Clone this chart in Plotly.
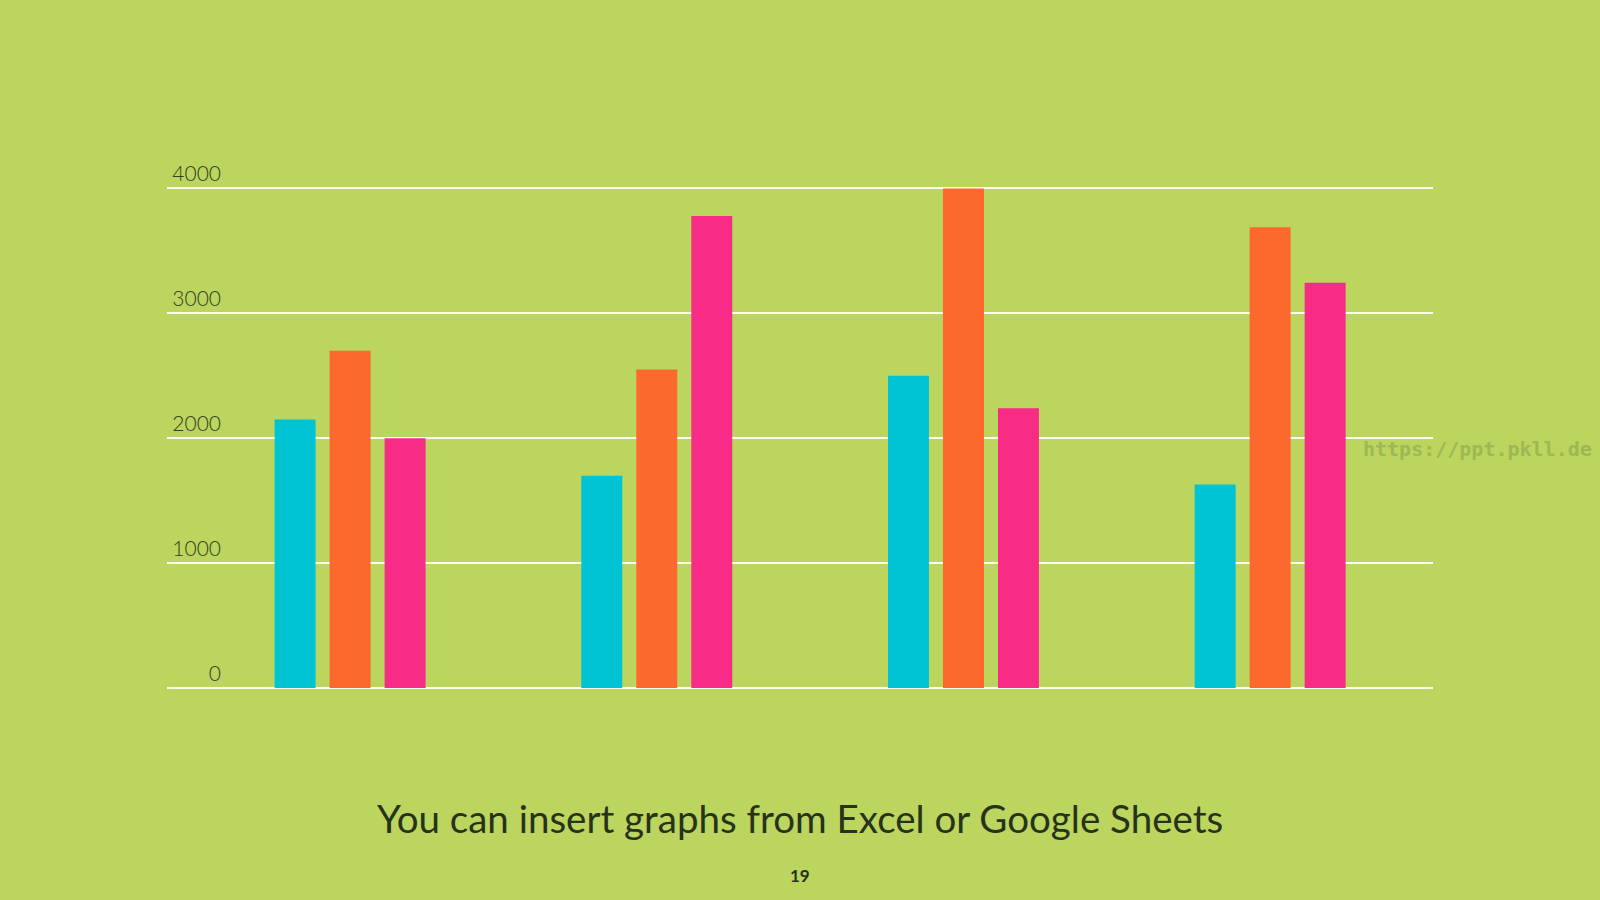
import plotly.graph_objects as go

categories = ["Category 1", "Category 2", "Category 3", "Category 4"]
series_names = ["Series 1", "Series 2", "Series 3"]
series1 = [2150, 1700, 2500, 1630]
series2 = [2700, 2550, 4000, 3690]
series3 = [2000, 3780, 2240, 3245]
tick_vals = [0, 1000, 2000, 3000, 4000]
tick_text = ["0", "1000", "2000", "3000", "4000"]
colors = ["#00C4D3", "#FD682C", "#F82B86"]

BG = "#BBD55E"
TEXT = "#26331A"

fig = go.Figure()
for name, vals, col in zip(series_names, [series1, series2, series3], colors):
    fig.add_trace(go.Bar(x=categories, y=vals, name=name, marker=dict(color=col, line=dict(width=0))))

fig.update_layout(
    width=1600, height=900,
    paper_bgcolor=BG, plot_bgcolor=BG,
    margin=dict(l=167, r=167, t=176, b=212),
    barmode="group", bargap=0.462, bargroupgap=0.255,
    showlegend=False,
    font=dict(family="Lato", color=TEXT),
    title=dict(text="You can insert graphs from Excel or Google Sheets",
               x=0.5, xanchor="center", y=1 - 820 / 900, yanchor="middle", yref="container",
               font=dict(family="Lato", size=38.5, color=TEXT)),
)
fig.update_xaxes(range=[-0.597, 3.531], showticklabels=False, showgrid=False, zeroline=False,
                 showline=False, ticks="")
fig.update_yaxes(range=[0, 4100], tickvals=tick_vals, ticktext=tick_text,
                 showgrid=True, gridcolor="#FFFDF0", gridwidth=2,
                 zeroline=True, zerolinecolor="#FFFDF0", zerolinewidth=2,
                 showline=False, ticks="",
                 ticklabelposition="outside top", ticklabelstandoff=-55,
                 tickfont=dict(family="Lato", size=21, color="#33401F", weight=300))

fig.add_annotation(text="<b>19</b>", xref="paper", yref="paper", x=(800 - 167) / 1266, y=(688 - 875) / 512,
                   showarrow=False, font=dict(family="Lato", size=17, color=TEXT),
                   xanchor="center", yanchor="middle")
fig.add_annotation(text="<b>https://ppt.pkll.de</b>", xref="paper", yref="paper",
                   x=(1477 - 167) / 1266, y=(688 - 449) / 512, showarrow=False,
                   font=dict(family="DejaVu Sans Mono", size=20, color="#9DB855"),
                   xanchor="center", yanchor="middle")

fig.write_html("out.html")
